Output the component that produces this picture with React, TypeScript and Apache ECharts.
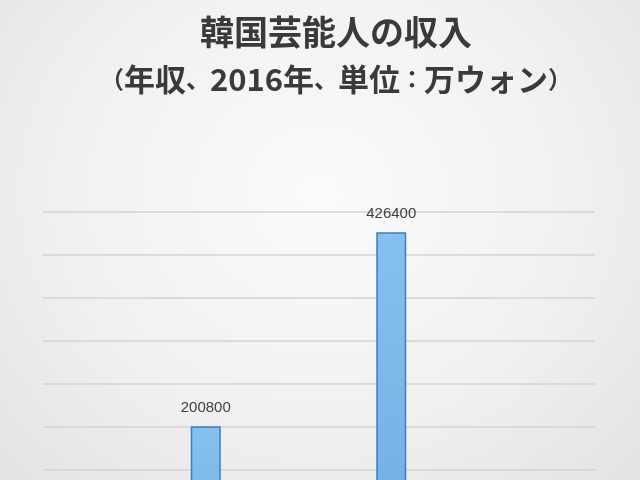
import { useEffect, useRef } from 'react';
import * as echarts from 'echarts';

// ─── Data ─────────────────────────────────────────────────────────────────────

const titleLines = ['韓国芸能人の収入', '（年収、2016年、単位：万ウォン）'];
const titleSizes = [34, 31];
const categories = ['俳優', '歌手'];
const incomeValues = [200800, 426400];
const axisMax = 450000;
const axisInterval = 50000;

// ─── Title helpers ────────────────────────────────────────────────────────────

// The reference uses narrow punctuation, so draw the full-width ones smaller.
const PUNCT = new Set(['（', '、', '）', '：']);

function squeezePunctuation(line: string): string {
  return Array.from(line)
    .map((ch) => (PUNCT.has(ch) ? `{p|${ch}}` : `{t|${ch}}`))
    .join('');
}

const TITLE_FONT = {
  fontWeight: 'bold' as const,
  fontFamily: '"Noto Sans CJK JP", sans-serif',
  fill: '#3a3a3a',
};

// ─── Option builder ───────────────────────────────────────────────────────────

function buildOption(): echarts.EChartsOption {
  const yCommon = {
    type: 'value' as const,
    min: 0,
    max: axisMax,
    interval: axisInterval,
    axisLine: { show: false },
    axisTick: { show: false },
    axisLabel: { show: false },
  };

  return {
    animation: false,
    backgroundColor: 'transparent',
    graphic: titleLines.map((line, i) => ({
      type: 'text',
      x: 336,
      y: 30 + i * 47,
      style: {
        text: squeezePunctuation(line),
        align: 'center',
        verticalAlign: 'middle',
        ...TITLE_FONT,
        fontSize: titleSizes[i],
        rich: {
          t: { ...TITLE_FONT, fontSize: titleSizes[i], verticalAlign: 'middle' },
          p: { ...TITLE_FONT, fontSize: 24, verticalAlign: 'middle' },
        },
      },
    })),
    // grid 0 carries the gridlines, grid 1 the bars (clustered offset)
    grid: [
      { left: 43, right: 45, top: 212, bottom: 41 },
      { left: 113, right: 156, top: 212, bottom: 41 },
    ],
    xAxis: [
      { type: 'category', gridIndex: 0, data: categories, show: false },
      {
        type: 'category',
        gridIndex: 1,
        data: categories,
        axisLine: { show: false },
        axisTick: { show: false },
        axisLabel: { show: false },
      },
    ],
    yAxis: [
      {
        ...yCommon,
        gridIndex: 0,
        splitLine: { lineStyle: { color: '#d3d3d3', width: 1.6 } },
      },
      { ...yCommon, gridIndex: 1, splitLine: { show: false } },
    ],
    series: [
      {
        type: 'bar',
        xAxisIndex: 1,
        yAxisIndex: 1,
        data: incomeValues,
        barWidth: 30,
        itemStyle: {
          color: {
            type: 'linear',
            x: 0, y: 0, x2: 0, y2: 1,
            colorStops: [
              { offset: 0, color: '#86c0ef' },
              { offset: 1, color: '#70abe0' },
            ],
          },
          borderColor: '#3d7ec0',
          borderWidth: 1.5,
        },
        label: {
          show: true,
          position: 'top',
          distance: 12,
          fontSize: 15,
          color: '#404040',
          fontFamily: '"Liberation Sans", Arial, sans-serif',
        },
      },
    ],
  };
}

// ─── App ──────────────────────────────────────────────────────────────────────

export default function App() {
  const ref = useRef<HTMLDivElement>(null);

  useEffect(() => {
    if (!ref.current) return;
    const chart = echarts.init(ref.current, null, { renderer: 'svg' });
    chart.setOption(buildOption());
    return () => chart.dispose();
  }, []);

  // The picture is cropped: the plot continues below the visible 480px.
  return (
    <div
      style={{
        position: 'fixed',
        left: 0,
        top: 0,
        width: 640,
        height: 480,
        overflow: 'hidden',
        background:
          'radial-gradient(ellipse at 50% 40%, #fbfbfb 0%, #f1f1f1 55%, #e3e3e3 100%)',
      }}
    >
      <div ref={ref} style={{ width: 640, height: 640 }} />
    </div>
  );
}
